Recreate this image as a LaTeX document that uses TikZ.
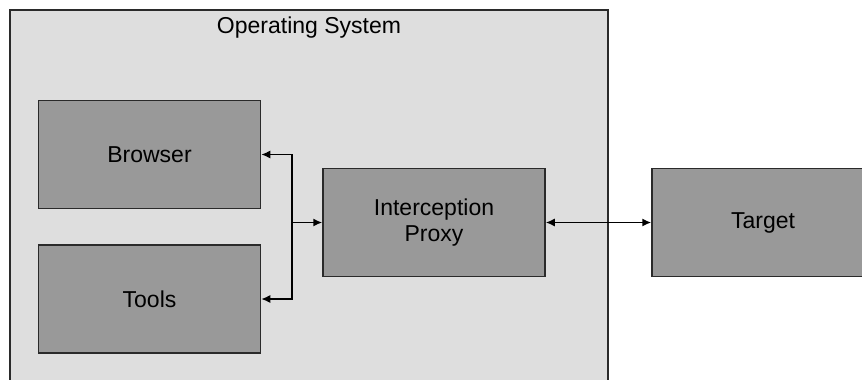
\documentclass[tikz,border=0pt]{standalone}
\usepackage{fontspec}
\setmainfont{Liberation Sans}
\usepackage{tikz}
\usetikzlibrary{arrows.meta}

\definecolor{osgray}{HTML}{DEDEDE}
\definecolor{boxgray}{HTML}{999999}
\definecolor{edgegray}{HTML}{2A2A2A}

\begin{document}
\begin{tikzpicture} [x=1pt, y=-1pt, >={Latex[length=9pt, width=8pt]},
		box/.style={draw=edgegray, fill=boxgray, line width=1.5pt, minimum width=222pt, minimum height=108pt, align=center, inner sep=0pt},
		txt/.style={font=\fontsize{23}{26}\selectfont}]
		%\draw [help lines] (0,0) grid (862,380);
		\clip (0,0) rectangle (862,380);
		\fill[white] (0,0) rectangle (862,380);
		\draw[draw=edgegray, fill=osgray, line width=1.5pt] (10,10) rectangle (608,420);
		\node[txt] (os) at (309,28) {Operating System};
		\node[box, txt] (browser) at (149.5,154.5) {Browser};
		\node[box, txt] (tools) at (149.5,299) {Tools};
		\node[box, txt] (proxy) at (434,222.5) {Interception\\Proxy};
		\node[box, txt] (target) at (763,222.5) {Target};
		\coordinate (split) at (292,222.5);
		\draw[->, line width=1.5pt] (split) |- (browser.east);
		\draw[->, line width=1.5pt] (split) |- (tools.east);
		\draw[->, line width=1.5pt] (split) -- (proxy.west);
		\draw[<->, line width=1.5pt] (proxy.east) -- (target.west);
	\end{tikzpicture}
\end{document}
